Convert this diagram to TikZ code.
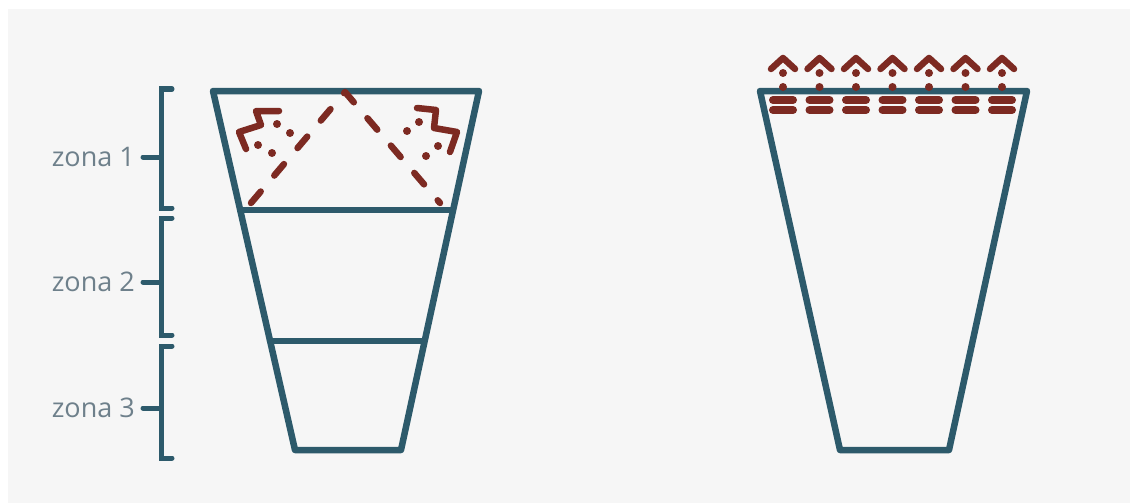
\documentclass[tikz,border=0pt]{standalone}
\usepackage{fontspec}
\setmainfont{Open Sans}
\usetikzlibrary{calc}
\definecolor{ZoneLine}{HTML}{2D5A6B}
\definecolor{HeatRed}{HTML}{7D2A22}
\definecolor{PaperBack}{HTML}{F6F6F6}
\definecolor{LabelGrey}{HTML}{6E808B}
\tikzset{wall/.style={draw=ZoneLine,line width=6.5pt,line join=round,line cap=round},
 brace/.style={draw=ZoneLine,line width=5pt,line cap=round},
 heat/.style={draw=HeatRed,line width=6.5pt,line cap=round,line join=round},
 heatdash/.style={heat,dash pattern=on 15pt off 21pt},
 zona/.style={font=\fontsize{27}{32}\selectfont,text=LabelGrey,anchor=east,inner sep=0pt}}
\begin{document}
\begin{tikzpicture}[x=1pt,y=-1pt]
\useasboundingbox (0,0) rectangle (1130,503);
\fill[white] (0,0) rectangle (1130,503);\fill[PaperBack] (8,9) rectangle (1130,503);
% zones and brackets
\foreach \n/\za/\zb/\zm in {1/89/208/157,2/218/335/282,3/346/458/408}{
 \node[zona] (zona\n) at (135,\zm) {zona \n};
 \draw[brace] (172,\za)--(161,\za)--(161,\zb)--(172,\zb);
 \draw[brace] ([xshift=8pt]zona\n.east)--(161,\zm);}
% left glass
\draw[wall] (213,91)--(479,91)--(401,450)--(295,450)--cycle;
\draw[wall] (241,210)--(451,210);\draw[wall] (270,341)--(422,341);
\draw[heatdash] (251,203)--(345,92)--(440,203);
\draw[heat] (279,111)--(256,111)--(261,125)--(239,132)--(246,149);
\draw[heat] (417,108)--(436,110)--(434,128)--(457,132)--(450,152);
\foreach \p in {(277,124),(290,133),(258,145),(272,153),(419,122),(407,131),(438,146),(426,156)}
 \fill[HeatRed] \p circle[radius=4];
% right glass
\draw[wall] (760,91)--(1027,91)--(949,450)--(840,450)--cycle;
\foreach \x in {783,819.5,856,892.5,929,965.5,1002}{
 \draw[heat] (\x-12,69)--(\x,58)--(\x+12,69);
 \fill[HeatRed] (\x,73) circle[radius=4] (\x,87) circle[radius=4];
 \draw[heat,line width=8pt] (\x-10,100)--(\x+10,100) (\x-10,110)--(\x+10,110);}
\end{tikzpicture}
\end{document}
